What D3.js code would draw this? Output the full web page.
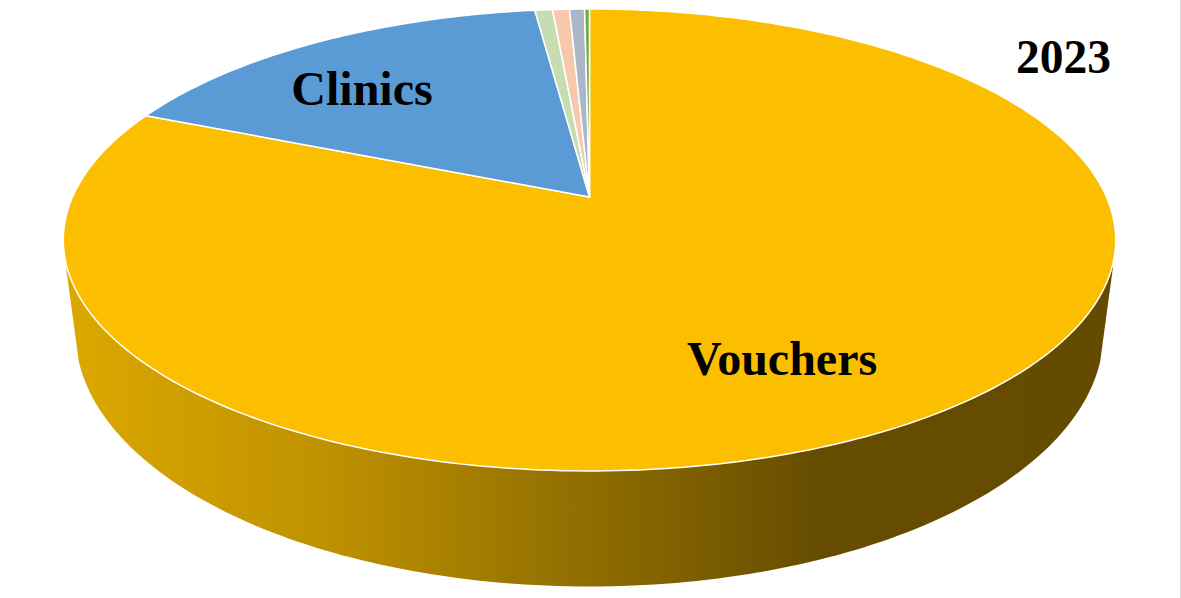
<!DOCTYPE html>
<html><head><meta charset="utf-8">
<script src="https://cdn.jsdelivr.net/npm/d3@7"></script>
<style>html,body{margin:0;padding:0;background:#fff}svg{display:block}text{font-family:"Liberation Serif",serif;font-weight:bold;fill:#000}</style>
</head><body><svg id="c" width="1181" height="598"></svg>
<script>
const categories=["Vouchers","Clinics","Other A","Other B","Other C","Other D"];
const shares=[81.4,16.6,0.65,0.62,0.55,0.18];
const sliceColors=["#FCBF00","#5B9BD5","#C5DDB0","#F6C9AC","#ABB7C9","#70AD47"];
const title="2023";
const svg=d3.select("#c");
const W0={cx:589.5,cy:197,A:517,B:223,k:0.186};
const lower={cx:589.5,cy:285.5,A:505,B:245,k:0.186};
function pt(a,g){const u=Math.sin(a),v=Math.cos(a),d=1+g.k*v;return [g.cx+g.A*u/d,g.cy-g.B*v/d];}
const line=d3.line();
function ring(g){return d3.range(0,361,1).map(d=>pt(d*Math.PI/180,g));}
const defs=svg.append("defs");
const gr=defs.append("linearGradient").attr("id","wall").attr("gradientUnits","userSpaceOnUse").attr("x1",66).attr("x2",1113).attr("y1",0).attr("y2",0);
[[0,"#DCA800"],[0.25,"#BE9100"],[0.5,"#8F6D00"],[0.72,"#664C00"],[1,"#654B00"]].forEach(s=>gr.append("stop").attr("offset",s[0]).attr("stop-color",s[1]));
// side wall
const lowR=ring(lower);
const leftTop=[66,267],rightTop=[1113,267];
const lowSorted=lowR.filter(p=>p[1]>358);
lowSorted.sort((a,b)=>a[0]-b[0]);
svg.append("path").attr("d",line([leftTop,...lowSorted,rightTop])+"Z").attr("fill","url(#wall)");
// top
const pie=d3.pie().sort(null).value(d=>d)(shares);
svg.append("g").selectAll("path").data(pie).join("path")
 .attr("d",d=>{const n=Math.max(2,Math.ceil((d.endAngle-d.startAngle)*180/Math.PI));
   const pts=[[W0.cx,W0.cy]];for(let i=0;i<=n;i++)pts.push(pt(d.startAngle+(d.endAngle-d.startAngle)*i/n,W0));return line(pts)+"Z";})
 .attr("fill",(d,i)=>sliceColors[i]).attr("stroke","#fff").attr("stroke-width",1.5).attr("stroke-linejoin","round");
// labels
svg.append("text").attr("x",782).attr("y",375).attr("text-anchor","middle").attr("font-size",48).text(categories[0]);
svg.append("text").attr("x",362).attr("y",105).attr("text-anchor","middle").attr("font-size",48).text(categories[1]);
svg.append("text").attr("x",1063.5).attr("y",73).attr("text-anchor","middle").attr("font-size",47.5).text(title);
svg.append("line").attr("x1",1180.5).attr("x2",1180.5).attr("y1",0).attr("y2",598).attr("stroke","#d9d9d9");
</script></body></html>
